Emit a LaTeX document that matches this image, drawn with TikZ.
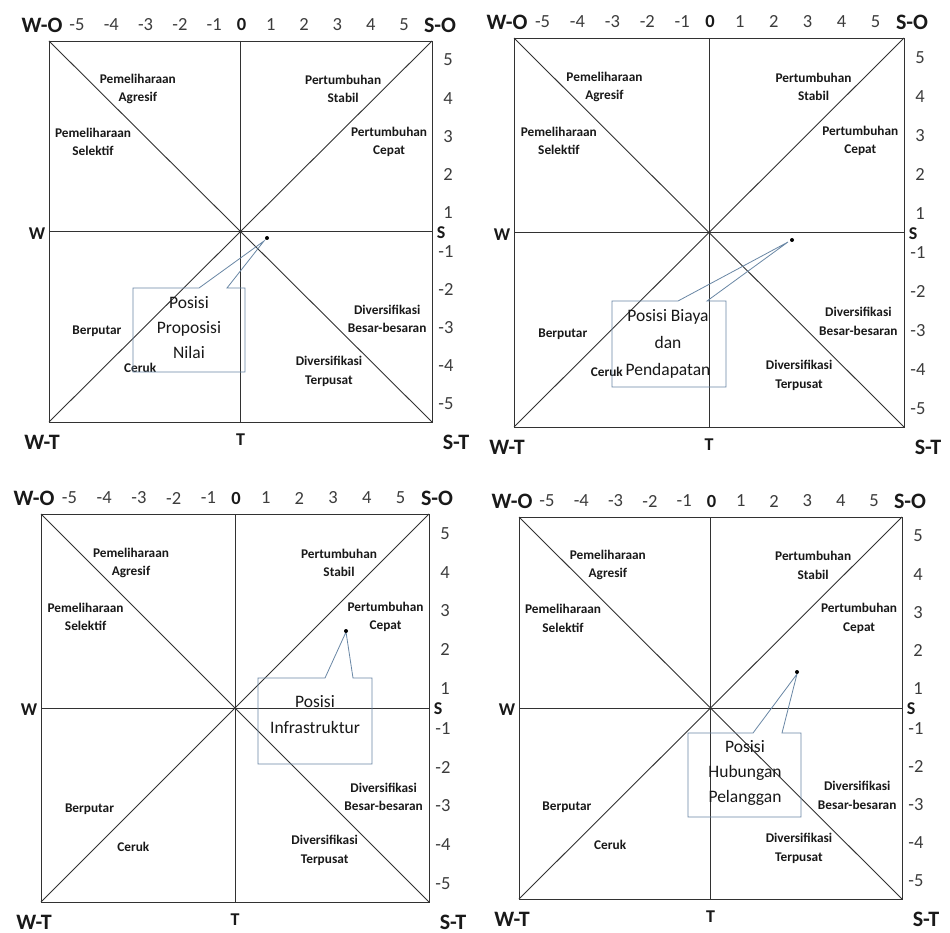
\documentclass[tikz,border=0pt]{standalone}
\usepackage{fontspec}
\setmainfont{Carlito}
\usetikzlibrary{calc}
\definecolor{gridc}{RGB}{50,50,50}
\definecolor{callc}{RGB}{105,135,165}
\definecolor{txtc}{RGB}{25,25,25}
\definecolor{numc}{RGB}{60,60,60}
\tikzset{
  gridline/.style={draw=gridc, line width=0.9pt},
  lab/.style={font=\fontsize{13.3}{18.5}\selectfont\bfseries, align=center, inner sep=0pt, text=txtc},
  axnum/.style={font=\fontsize{18.5}{18.5}\selectfont, inner sep=0pt, text=numc},
  axzero/.style={font=\fontsize{18.5}{18.5}\selectfont\bfseries, inner sep=0pt, text=txtc},
  axlet/.style={font=\fontsize{22}{22}\selectfont\bfseries, inner sep=0pt, text=txtc},
  axletsm/.style={font=\fontsize{18}{18}\selectfont\bfseries, inner sep=0pt, text=txtc},
  callbox/.style={draw=callc, line width=0.8pt, line join=miter},
  calltext/.style={font=\fontsize{17.5}{25}\selectfont, align=center, inner sep=0pt, text=txtc},
  posdot/.style={circle, fill=black, inner sep=0pt, minimum size=4pt},
}
% #1 prefix, #2 left, #3 top, #4 right, #5 bottom (pixels, y downwards)
\newcommand\swotpanel[5]{%
  \pgfmathsetmacro\pW{#4-#2}%
  \pgfmathsetmacro\pH{#5-#3}%
  \pgfmathsetmacro\pcx{(#2+#4)/2}%
  \pgfmathsetmacro\pcy{(#3+#5)/2}%
  \pgfmathsetmacro\ps{\pW/383}%
  \draw[gridline] (#2,#3) rectangle (#4,#5);
  \draw[gridline] (#2,#3) -- (#4,#5);
  \draw[gridline] (#4,#3) -- (#2,#5);
  \draw[gridline] (\pcx,#3) -- (\pcx,#5);
  \draw[gridline] (#2,\pcy) -- (#4,\pcy);
  \node[axlet] (#1-wo) at ({#2-7},{#3-16}) {W-O};
  \node[axlet] (#1-so) at ({#4+8},{#3-16}) {S-O};
  \node[axlet] (#1-wt) at ({#2-7},{#5+20}) {W-T};
  \node[axlet] (#1-st) at ({#4+24},{#5+20}) {S-T};
  \node[axletsm] (#1-w) at ({#2-12},{\pcy+2}) {W};
  \node[axletsm] (#1-s) at ({#4+9},{\pcy+1}) {S};
  \node[axletsm] (#1-t) at (\pcx,{#5+18}) {T};
  \node[axzero] (#1-zero) at ({\pcx+1},{#3-16}) {0};
  \foreach \k in {1,...,5}{
    \node[axnum] (#1-p\k) at ({\pcx+(33.3*\k-3)*\ps},{#3-16}) {\k};
    \node[axnum] (#1-n\k) at ({\pcx-(34.3*\k-8)*\ps},{#3-16}) {-\k};
    \node[axnum] (#1-r\k) at ({#4+16},{\pcy-\pH/2*(0.2*\k-0.1)}) {\k};
    \node[axnum] (#1-m\k) at ({#4+14},{\pcy+\pH/2*(0.2*\k-0.1)+1}) {-\k};
  }
  \node[lab] (#1-agr) at ({#2+0.232*\pW},{#3+0.126*\pH}) {Pemeliharaan\\Agresif};
  \node[lab] (#1-sel) at ({#2+0.115*\pW},{#3+0.265*\pH}) {Pemeliharaan\\Selektif};
  \node[lab] (#1-stb) at ({#2+0.768*\pW},{#3+0.126*\pH}) {Pertumbuhan\\Stabil};
  \node[lab] (#1-cep) at ({#2+0.888*\pW},{#3+0.265*\pH}) {Pertumbuhan\\Cepat};
  \node[lab] (#1-ber) at ({#2+0.125*\pW},{#3+0.761*\pH}) {Berputar};
  \node[lab] (#1-cer) at ({#2+0.238*\pW},{#3+0.858*\pH}) {Ceruk};
  \node[lab] (#1-dbb) at ({#2+0.883*\pW},{#3+0.729*\pH}) {Diversifikasi\\Besar-besaran};
  \node[lab] (#1-dtp) at ({#2+0.731*\pW},{#3+0.867*\pH}) {Diversifikasi\\Terpusat};
}
\begin{document}
\begin{tikzpicture}[x=1pt,y=-1pt]
  \fill[white] (0,0) rectangle (950,933);
  \useasboundingbox (0,0) rectangle (950,933);

  \swotpanel{a}{49}{41}{432}{422}
  \swotpanel{b}{514}{38}{904}{427}
  \swotpanel{c}{41}{514}{429}{902}
  \swotpanel{d}{519}{517}{902}{899}

  % Panel a: Proposisi Nilai
  \coordinate (a-tip) at (264,241);
  \draw[callbox] (199,288) -- (133,288) -- (133,372) -- (245,372) -- (245,288) -- (227,288) -- (a-tip) -- cycle;
  \node[posdot] (a-dot) at (267,238) {};
  \node[calltext] (a-txt) at (189,328) {Posisi\\Proposisi\\Nilai};

  % Panel b: Biaya dan Pendapatan
  \coordinate (b-tip) at (788,242);
  \draw[callbox] (678,301) -- (612,301) -- (612,387) -- (726,387) -- (726,301) -- (707,301) -- (b-tip) -- cycle;
  \node[posdot] (b-dot) at (792,240) {};
  \node[calltext, font=\fontsize{17.5}{27}\selectfont] (b-txt) at (668,344) {Posisi Biaya\\dan\\Pendapatan};

  % Panel c: Infrastruktur
  \coordinate (c-tip) at (346,632);
  \draw[callbox] (325,678) -- (258,678) -- (258,764) -- (372,764) -- (372,678) -- (353,678) -- (c-tip) -- cycle;
  \node[posdot] (c-dot) at (346,631) {};
  \node[calltext, font=\fontsize{17.5}{26}\selectfont] (c-txt) at (315,715) {Posisi\\Infrastruktur};

  % Panel d: Hubungan Pelanggan
  \coordinate (d-tip) at (797,674);
  \draw[callbox] (753,733) -- (688,733) -- (688,817) -- (801,817) -- (801,733) -- (782,733) -- (d-tip) -- cycle;
  \node[posdot] (d-dot) at (797,672) {};
  \node[calltext] (d-txt) at (745,773) {Posisi\\Hubungan\\Pelanggan};
\end{tikzpicture}
\end{document}
